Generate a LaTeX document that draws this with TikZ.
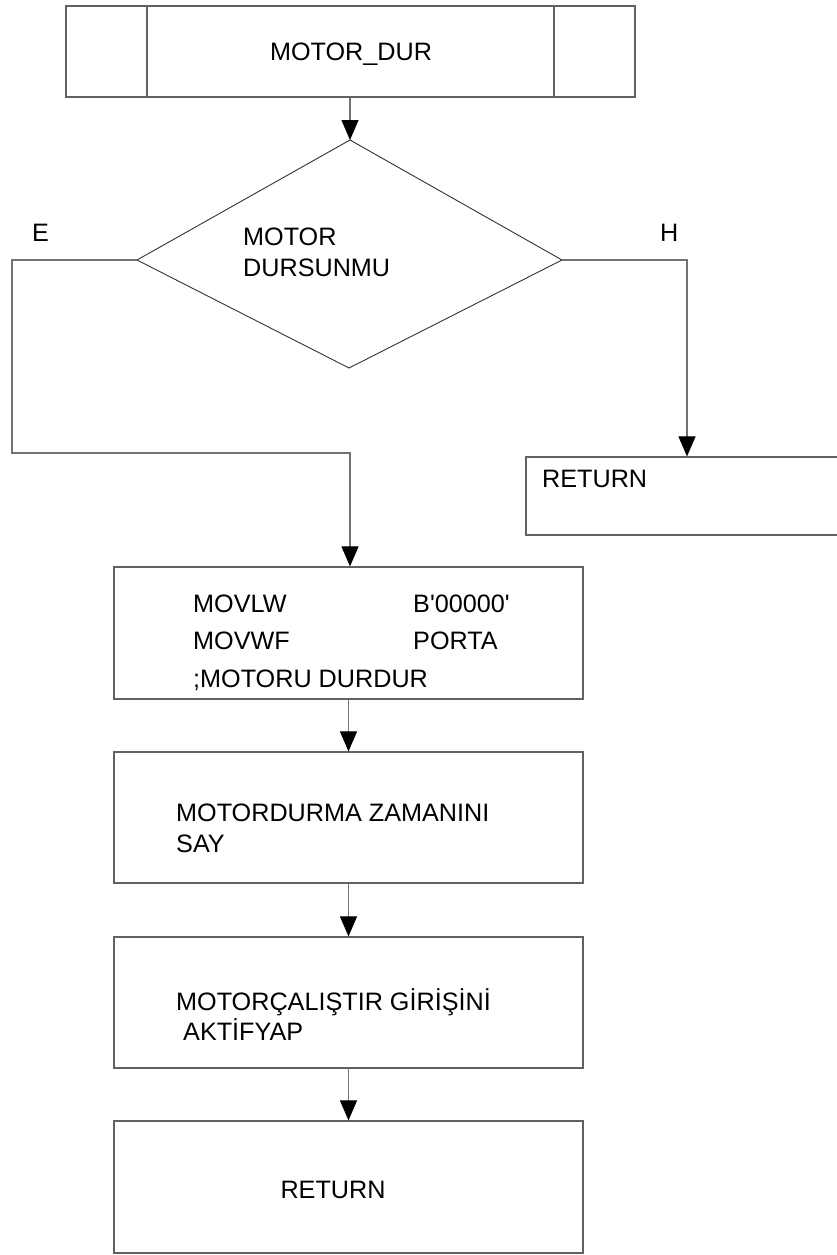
\documentclass[tikz,border=0pt]{standalone}
\usepackage{fontspec}
\setmainfont{Liberation Sans}
\usetikzlibrary{arrows.meta}

\begin{document}
\begin{tikzpicture}[x=1pt,y=-1pt,
  boxline/.style={draw=black!62,line width=1.2pt},
  procbox/.style={boxline,rectangle,inner sep=0pt,minimum width=469pt},
  flow/.style={draw=black!55,line width=1.1pt,
    -{Triangle[width=17pt,length=20pt,fill=black,color=black]}},
  wire/.style={draw=black!80,line width=0.9pt},
  txt/.style={inner sep=0pt,anchor=base west,font=\fontsize{25.2}{30}\selectfont},
  ctxt/.style={txt,anchor=base}]
  % page frame and clip
  \clip (0,0) rectangle (837,1255);
  \fill[white] (0,0) rectangle (837,1255);

  % subroutine header box
  \node[boxline,rectangle,inner sep=0pt,minimum width=569pt,minimum height=91pt]
    (head) at (350.5,51.5) {};
  \draw[boxline] (147,6) -- (147,97) (554,6) -- (554,97);
  \node[ctxt] (headtxt) at (351,61) {MOTOR\_DUR};

  % decision diamond
  \coordinate (dtop) at (350,140);
  \coordinate (dleft) at (137,260);
  \coordinate (dbot) at (349,368);
  \coordinate (dright) at (562,260);
  \draw[wire] (dtop) -- (dleft) -- (dbot) -- (dright) -- cycle;
  \node[txt] (q1) at (243,245) {MOTOR};
  \node[txt] (q2) at (243,276) {DURSUNMU};
  \node[txt] (elbl) at (32,241) {E};
  \node[txt] (hlbl) at (660,241) {H};

  % early return box (runs off the right edge)
  \node[procbox,minimum width=340pt,minimum height=78pt] (ret1) at (696,496) {};
  \node[txt] (ret1txt) at (542,487) {RETURN};

  % process boxes
  \node[procbox,minimum height=132pt] (b1) at (348.5,633) {};
  \node[txt] (b1a) at (193,612) {MOVLW};
  \node[txt] (b1b) at (413,612) {B\textquotesingle 00000\textquotesingle};
  \node[txt] (b1c) at (193,649) {MOVWF};
  \node[txt] (b1d) at (413,649) {PORTA};
  \node[txt] (b1e) at (193,687) {;MOTORU DURDUR};

  \node[procbox,minimum height=131pt] (b2) at (348.5,817.5) {};
  \node[txt] (b2a) at (176,821) {MOTORDURMA ZAMANINI};
  \node[txt] (b2b) at (176,852) {SAY};

  \node[procbox,minimum height=131pt] (b3) at (348.5,1002.5) {};
  \node[txt] (b3a) at (176,1010) {MOTORÇALIŞTIR GİRİŞİNİ};
  \node[txt] (b3b) at (183,1040) {AKTİFYAP};

  \node[procbox,minimum height=132pt] (b4) at (348.5,1187) {};
  \node[ctxt] (b4txt) at (333,1198) {RETURN};

  % connectors
  \draw[flow] (head.south -| dtop) -- (dtop);
  \coordinate (e1) at (12,260);
  \coordinate (e2) at (12,453);
  \coordinate (e3) at (350,453);
  \draw[flow] (dleft) -- (e1) -- (e2) -- (e3) -- (e3 |- b1.north);
  \coordinate (h1) at (687,260);
  \draw[flow] (dright) -- (h1) -- (h1 |- ret1.north);
  \draw[flow] (b1.south) -- (b2.north);
  \draw[flow] (b2.south) -- (b3.north);
  \draw[flow] (b3.south) -- (b4.north);
\end{tikzpicture}
\end{document}
